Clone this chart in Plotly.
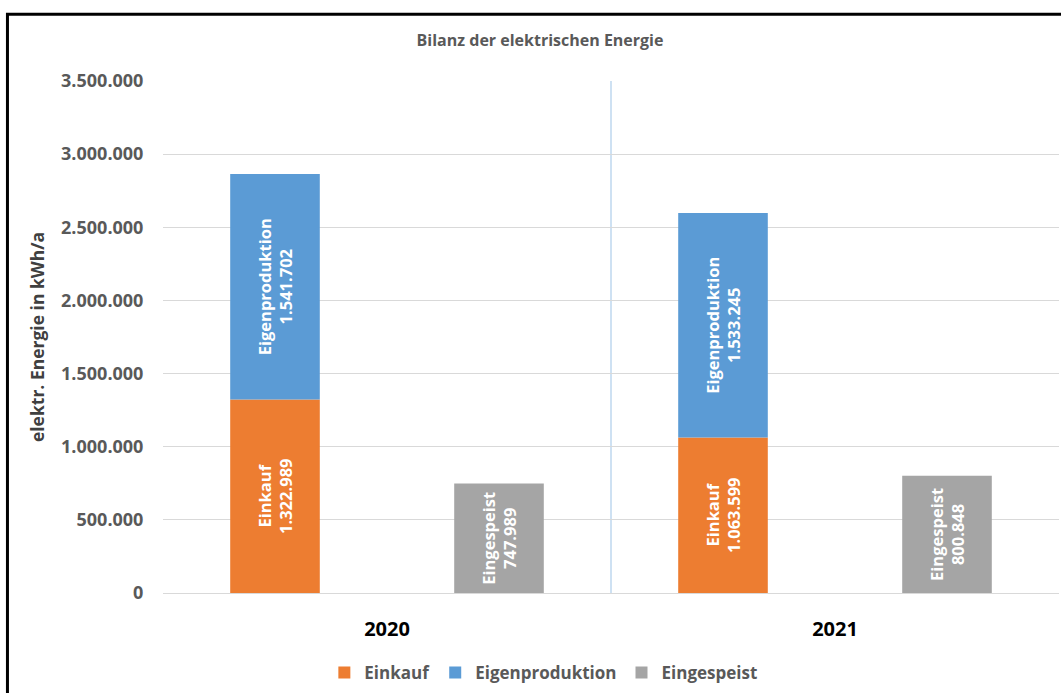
import plotly.graph_objects as go

years = ["2020", "2021"]
einkauf = [1322989, 1063599]
eigenproduktion = [1541702, 1533245]
eingespeist = [747989, 800848]
yticks = [0, 500000, 1000000, 1500000, 2000000, 2500000, 3000000, 3500000]

def fmt(v):
    return f"{v:,}".replace(",", ".")

xpos = list(range(len(years)))
FONT = "Open Sans"
lbl_font = dict(family=FONT, size=16.5, color="white", weight="bold")

fig = go.Figure()
fig.add_trace(go.Bar(
    x=xpos, y=einkauf, name="Einkauf", marker=dict(color="#ED7D31", line=dict(width=0)),
    offset=-0.35, width=0.2,
    text=[f"Einkauf<br>{fmt(v)}" for v in einkauf], textposition="inside",
    insidetextanchor="middle", textangle=-90, insidetextfont=lbl_font,
    hoverinfo="skip"))
fig.add_trace(go.Bar(
    x=xpos, y=eigenproduktion, base=einkauf, name="Eigenproduktion",
    marker=dict(color="#5B9BD5", line=dict(width=0)),
    offset=-0.35, width=0.2,
    text=[f"Eigenproduktion<br>{fmt(v)}" for v in eigenproduktion], textposition="inside",
    insidetextanchor="middle", textangle=-90, insidetextfont=lbl_font,
    hoverinfo="skip"))
fig.add_trace(go.Bar(
    x=xpos, y=eingespeist, name="Eingespeist",
    marker=dict(color="#A5A5A5", line=dict(width=0)),
    offset=0.15, width=0.2,
    text=[f"Eingespeist<br>{fmt(v)}" for v in eingespeist], textposition="inside",
    insidetextanchor="middle", textangle=-90, insidetextfont=lbl_font,
    hoverinfo="skip"))

# category separator
fig.add_shape(type="line", xref="x", yref="y", x0=0.5, x1=0.5, y0=0, y1=yticks[-1],
              line=dict(color="#9DC3E6", width=1), layer="below")
# outer frame (top and left edges)
fig.add_shape(type="rect", xref="paper", yref="paper", x0=-0.1736, x1=1.05, y0=-0.4, y1=1.1303,
              line=dict(color="black", width=3))

fig.update_layout(
    width=1061, height=693,
    margin=dict(l=163, r=2, t=81, b=98),
    paper_bgcolor="white", plot_bgcolor="white",
    barmode="overlay",
    separators=",.",
    font=dict(family=FONT, color="#595959"),
    title=dict(text="Bilanz der elektrischen Energie", xref="paper", x=0.4208, xanchor="center",
               yref="container", y=1 - 40 / 693, yanchor="middle",
               font=dict(family=FONT, size=16, color="#595959", weight="bold")),
    showlegend=True,
    legend=dict(orientation="h", xref="paper", x=0.4245, xanchor="center", yref="paper",
                y=-0.156, yanchor="middle", font=dict(family=FONT, size=17, color="#595959", weight="bold"),
                traceorder="normal", itemwidth=30),
    xaxis=dict(range=[-0.5, 1.5], tickvals=xpos, ticktext=years, showgrid=False, zeroline=False,
               showline=True, linecolor="#D9D9D9", linewidth=1,
               ticks="outside", ticklen=18, tickcolor="rgba(0,0,0,0)",
               tickfont=dict(family=FONT, size=20, color="black", weight="bold")),
    yaxis=dict(range=[0, yticks[-1]], tickvals=yticks, ticktext=[fmt(v) for v in yticks],
               showgrid=True, gridcolor="#D9D9D9", gridwidth=1, zeroline=False,
               ticks="outside", ticklen=15, tickcolor="rgba(0,0,0,0)",
               tickfont=dict(family=FONT, size=18, color="#595959", weight="bold"),
               title=dict(text="elektr. Energie in kWh/a", standoff=11,
                          font=dict(family=FONT, size=17.5, color="#404040", weight="bold"))),
)

fig.write_html("out.html")
